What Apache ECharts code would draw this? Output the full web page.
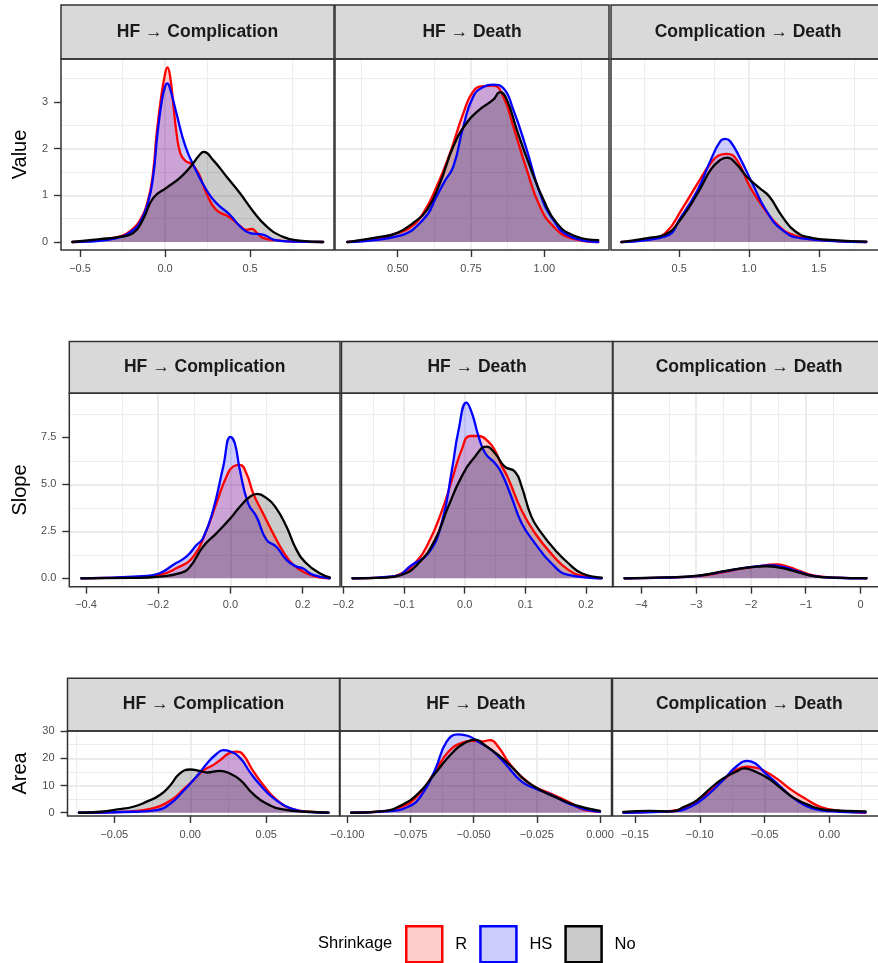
<!DOCTYPE html>
<html><head><meta charset="utf-8">
<script src="https://cdn.jsdelivr.net/npm/echarts@6/dist/echarts.min.js"></script>
<style>html,body{margin:0;padding:0;background:#fff}#c{width:878px;height:963px}</style>
</head><body><div id="c"></div><script>
// ---------- categories ----------
const measures = ['Value', 'Slope', 'Area'];
const transitions = ['HF \u2192 Complication', 'HF \u2192 Death', 'Complication \u2192 Death'];
const groups = ['R', 'HS', 'No'];

// ---------- density curves (x, density) ----------
// Value
const value_hfComp_R = [[-0.545,0],[-0.45,0.02],[-0.35,0.06],[-0.25,0.14],[-0.2,0.25],[-0.15,0.45],[-0.1,0.9],[-0.07,1.5],[-0.05,2.3],[-0.025,3.05],[0,3.6],[0.014,3.74],[0.03,3.55],[0.05,2.9],[0.067,2.35],[0.09,1.9],[0.12,1.74],[0.16,1.66],[0.2,1.45],[0.243,1.05],[0.3,0.69],[0.38,0.53],[0.44,0.35],[0.478,0.26],[0.51,0.28],[0.54,0.2],[0.576,0.09],[0.65,0.04],[0.75,0.01],[0.93,0]];
const value_hfComp_HS = [[-0.545,0],[-0.45,0.01],[-0.35,0.04],[-0.25,0.12],[-0.2,0.22],[-0.15,0.4],[-0.1,0.85],[-0.07,1.4],[-0.045,2.3],[-0.02,3.0],[0,3.33],[0.014,3.4],[0.03,3.28],[0.067,2.76],[0.12,2.05],[0.18,1.55],[0.243,1.12],[0.3,0.84],[0.38,0.59],[0.44,0.34],[0.5,0.19],[0.576,0.16],[0.65,0.04],[0.75,0.01],[0.93,0]];
const value_hfComp_No = [[-0.545,0],[-0.384,0.06],[-0.267,0.11],[-0.188,0.19],[-0.13,0.48],[-0.07,0.94],[0.008,1.16],[0.086,1.37],[0.145,1.59],[0.204,1.87],[0.228,1.93],[0.282,1.76],[0.36,1.41],[0.44,1.05],[0.518,0.66],[0.596,0.34],[0.694,0.11],[0.79,0.03],[0.93,0]];
const value_hfDeath_R = [[0.328,0],[0.44,0.09],[0.497,0.19],[0.54,0.3],[0.587,0.62],[0.633,1.19],[0.678,1.9],[0.724,2.76],[0.758,3.23],[0.792,3.34],[0.826,3.35],[0.86,3.12],[0.894,2.48],[0.94,1.55],[0.985,0.76],[1.03,0.34],[1.088,0.09],[1.184,0]];
const value_hfDeath_HS = [[0.328,0],[0.497,0.12],[0.587,0.48],[0.633,0.98],[0.66,1.3],[0.69,1.62],[0.724,2.48],[0.758,3.12],[0.792,3.32],[0.826,3.37],[0.86,3.3],[0.894,2.84],[0.94,1.98],[0.985,1.05],[1.03,0.48],[1.088,0.12],[1.184,0]];
const value_hfDeath_No = [[0.328,0],[0.44,0.11],[0.497,0.19],[0.553,0.41],[0.6,0.69],[0.644,1.26],[0.69,2.05],[0.735,2.55],[0.78,2.84],[0.826,3.05],[0.849,3.21],[0.872,3.05],[0.906,2.41],[0.951,1.62],[0.997,0.91],[1.042,0.41],[1.1,0.14],[1.184,0.04]];
const value_compDeath_R = [[0.086,0],[0.284,0.06],[0.4,0.19],[0.516,0.69],[0.633,1.26],[0.726,1.69],[0.795,1.87],[0.842,1.89],[0.912,1.76],[1.005,1.19],[1.098,0.76],[1.214,0.34],[1.33,0.14],[1.516,0.04],[1.84,0]];
const value_compDeath_HS = [[0.086,0],[0.4,0.12],[0.516,0.55],[0.633,1.12],[0.726,1.76],[0.795,2.16],[0.83,2.21],[0.865,2.16],[0.935,1.8],[1.028,1.23],[1.12,0.69],[1.237,0.26],[1.377,0.08],[1.84,0]];
const value_compDeath_No = [[0.086,0],[0.284,0.09],[0.4,0.16],[0.516,0.51],[0.633,1.05],[0.726,1.55],[0.795,1.76],[0.842,1.81],[0.912,1.66],[0.981,1.41],[1.074,1.16],[1.144,0.98],[1.237,0.55],[1.33,0.23],[1.447,0.09],[1.61,0.04],[1.84,0.01]];
// Slope
const slope_hfComp_R = [[-0.413,0],[-0.316,0.04],[-0.242,0.09],[-0.196,0.18],[-0.15,0.53],[-0.103,1.15],[-0.066,2.57],[-0.039,3.99],[-0.011,5.41],[0.007,5.94],[0.026,6.03],[0.044,5.59],[0.063,4.52],[0.09,3.46],[0.118,2.39],[0.146,1.42],[0.174,0.71],[0.21,0.27],[0.247,0.05],[0.275,0]];
const slope_hfComp_HS = [[-0.413,0],[-0.242,0.12],[-0.196,0.27],[-0.159,0.71],[-0.122,1.15],[-0.094,1.77],[-0.076,2.13],[-0.048,3.63],[-0.02,5.94],[0,7.52],[0.012,7.18],[0.026,5.76],[0.049,3.99],[0.072,3.28],[0.1,2.04],[0.127,1.68],[0.155,0.98],[0.183,0.62],[0.2,0.53],[0.229,0.18],[0.275,0]];
const slope_hfComp_No = [[-0.413,0],[-0.27,0.02],[-0.196,0.09],[-0.14,0.27],[-0.113,0.59],[-0.076,1.68],[-0.039,2.39],[0,3.19],[0.026,3.81],[0.054,4.34],[0.074,4.49],[0.1,4.26],[0.127,3.72],[0.155,2.75],[0.183,1.51],[0.21,0.8],[0.247,0.27],[0.275,0.05]];
const slope_hfDeath_R = [[-0.185,0],[-0.131,0.05],[-0.104,0.27],[-0.082,0.8],[-0.06,1.86],[-0.038,3.55],[-0.021,5.23],[-0.005,6.83],[0.009,7.57],[0.023,7.57],[0.039,7.27],[0.05,6.8],[0.061,6.0],[0.072,5.3],[0.094,3.6],[0.116,2.4],[0.143,1.3],[0.171,0.45],[0.198,0.1],[0.226,0]];
const slope_hfDeath_HS = [[-0.185,0],[-0.115,0.12],[-0.087,0.71],[-0.06,1.33],[-0.038,2.93],[-0.021,5.76],[-0.01,7.89],[0.003,9.34],[0.012,8.78],[0.023,7.54],[0.034,6.65],[0.05,6.12],[0.061,5.59],[0.077,4.34],[0.094,2.93],[0.116,1.86],[0.143,0.8],[0.171,0.18],[0.226,0]];
const slope_hfDeath_No = [[-0.185,0],[-0.131,0.04],[-0.104,0.18],[-0.076,0.8],[-0.049,2.04],[-0.027,3.81],[-0.005,5.41],[0.017,6.47],[0.036,7.0],[0.05,6.65],[0.066,5.94],[0.083,5.67],[0.094,4.88],[0.11,3.28],[0.127,2.39],[0.149,1.51],[0.171,0.8],[0.193,0.27],[0.226,0.04]];
const slope_compDeath_R = [[-4.31,0],[-3.57,0.04],[-2.97,0.12],[-2.5,0.33],[-2.2,0.5],[-1.9,0.62],[-1.55,0.74],[-1.3,0.6],[-1.1,0.38],[-0.84,0.14],[-0.48,0.04],[0.11,0]];
const slope_compDeath_HS = [[-4.31,0],[-3.57,0.04],[-2.97,0.13],[-2.5,0.35],[-2.2,0.52],[-1.9,0.63],[-1.67,0.69],[-1.4,0.6],[-1.13,0.35],[-0.84,0.12],[-0.48,0.03],[0.11,0]];
const slope_compDeath_No = [[-4.31,0],[-3.57,0.05],[-2.97,0.14],[-2.5,0.38],[-2.2,0.52],[-1.9,0.62],[-1.73,0.64],[-1.45,0.56],[-1.15,0.33],[-0.86,0.12],[-0.5,0.04],[0.11,0.01]];
// Area
const area_hfComp_R = [[-0.0733,0],[-0.048,0.24],[-0.031,1.0],[-0.02,2.45],[-0.011,5.3],[-0.005,8.3],[0.002,12.0],[0.009,15.7],[0.015,17.5],[0.0195,19.3],[0.026,22.0],[0.0305,22.5],[0.035,21.2],[0.041,15.7],[0.048,10.2],[0.057,4.65],[0.068,1.22],[0.079,0.37],[0.091,0]];
const area_hfComp_HS = [[-0.0733,0],[-0.0375,0.37],[-0.022,1.0],[-0.013,3.4],[-0.005,7.7],[0.004,13.2],[0.011,18.1],[0.017,21.5],[0.0217,23.0],[0.026,22.6],[0.033,20.0],[0.039,15.1],[0.046,10.2],[0.055,5.3],[0.066,1.6],[0.079,0.24],[0.091,0]];
const area_hfComp_No = [[-0.0733,0],[-0.059,0.37],[-0.048,1.2],[-0.0375,2.2],[-0.029,4.0],[-0.02,6.5],[-0.013,10.2],[-0.007,14.4],[0,15.9],[0.006,15.4],[0.011,14.8],[0.0195,15.4],[0.026,14.4],[0.033,12.0],[0.041,7.1],[0.05,3.4],[0.061,1.2],[0.0765,0.37],[0.091,0.05]];
const area_hfDeath_R = [[-0.0985,0],[-0.0877,0.37],[-0.0785,2.2],[-0.0719,6.5],[-0.0653,15.1],[-0.06,22.4],[-0.0547,25.7],[-0.0508,26.4],[-0.0468,26.2],[-0.0435,26.7],[-0.0402,24.2],[-0.0363,18.7],[-0.031,13.2],[-0.0257,9.5],[-0.0191,6.9],[-0.0125,4.0],[-0.0059,1.0],[0,0.37]];
const area_hfDeath_HS = [[-0.0985,0],[-0.085,0.5],[-0.0759,2.2],[-0.0706,6.5],[-0.0653,15.7],[-0.0607,26.1],[-0.0561,28.8],[-0.0521,28.2],[-0.0482,26.1],[-0.0429,23.0],[-0.0376,18.1],[-0.031,11.4],[-0.0257,8.9],[-0.0191,6.5],[-0.0125,3.4],[-0.0059,1.2],[0,0.3]];
const area_hfDeath_No = [[-0.0985,0],[-0.085,0.7],[-0.0785,2.8],[-0.0719,7.1],[-0.0653,14.4],[-0.0587,21.8],[-0.0534,25.7],[-0.0495,26.9],[-0.0455,24.8],[-0.0402,21.2],[-0.035,16.9],[-0.0297,12.0],[-0.0231,8.1],[-0.0165,5.3],[-0.0099,2.8],[0,0.7]];
const area_compDeath_R = [[-0.159,0],[-0.139,0.37],[-0.122,0.7],[-0.107,2.8],[-0.094,7.1],[-0.082,12.0],[-0.072,15.7],[-0.064,16.9],[-0.057,16.6],[-0.049,15.1],[-0.039,12.0],[-0.029,8.3],[-0.019,5.3],[-0.007,2.2],[0.008,0.7],[0.028,0]];
const area_compDeath_HS = [[-0.159,0],[-0.122,0.5],[-0.107,2.2],[-0.094,6.5],[-0.082,12.0],[-0.072,16.9],[-0.063,19.1],[-0.057,18.1],[-0.049,14.4],[-0.039,10.2],[-0.029,5.9],[-0.019,2.8],[-0.007,1.0],[0.008,0.37],[0.028,0.1]];
const area_compDeath_No = [[-0.159,0.3],[-0.139,0.7],[-0.122,0.5],[-0.112,2.2],[-0.102,4.65],[-0.092,8.9],[-0.082,12.6],[-0.072,15.1],[-0.0655,16.3],[-0.057,15.1],[-0.047,12.6],[-0.037,8.9],[-0.027,5.3],[-0.014,2.45],[-0.002,1.0],[0.028,0.5]];

// ---------- tick labels ----------
const valueYTicks = [0, 1, 2, 3];
const slopeYTicks = [0, 2.5, 5, 7.5];
const areaYTicks = [0, 10, 20, 30];
const value_hfComp_xTicks = [-0.5, 0, 0.5];
const value_hfDeath_xTicks = [0.5, 0.75, 1.0];
const value_compDeath_xTicks = [0.5, 1.0, 1.5];
const slope_hfComp_xTicks = [-0.4, -0.2, 0, 0.2];
const slope_hfDeath_xTicks = [-0.2, -0.1, 0, 0.1, 0.2];
const slope_compDeath_xTicks = [-4, -3, -2, -1, 0];
const area_hfComp_xTicks = [-0.05, 0, 0.05];
const area_hfDeath_xTicks = [-0.1, -0.075, -0.05, -0.025, 0];
const area_compDeath_xTicks = [-0.15, -0.1, -0.05, 0];

// ---------- assembly ----------
const panelData = [
  [[value_hfComp_R, value_hfComp_HS, value_hfComp_No], [value_hfDeath_R, value_hfDeath_HS, value_hfDeath_No], [value_compDeath_R, value_compDeath_HS, value_compDeath_No]],
  [[slope_hfComp_R, slope_hfComp_HS, slope_hfComp_No], [slope_hfDeath_R, slope_hfDeath_HS, slope_hfDeath_No], [slope_compDeath_R, slope_compDeath_HS, slope_compDeath_No]],
  [[area_hfComp_R, area_hfComp_HS, area_hfComp_No], [area_hfDeath_R, area_hfDeath_HS, area_hfDeath_No], [area_compDeath_R, area_compDeath_HS, area_compDeath_No]]
];
const yTicks = [valueYTicks, slopeYTicks, areaYTicks];
const xTicks = [
  [value_hfComp_xTicks, value_hfDeath_xTicks, value_compDeath_xTicks],
  [slope_hfComp_xTicks, slope_hfDeath_xTicks, slope_compDeath_xTicks],
  [area_hfComp_xTicks, area_hfDeath_xTicks, area_compDeath_xTicks]
];

// layout (pixels) and axis windows
const rowLayout = [
  {stripTop: 5, top: 59, bottom: 250, yMin: -0.171, yMax: 3.921, yDec: 0, nameGap: 31},
  {stripTop: 341.5, top: 393.3, bottom: 586.7, yMin: -0.447, yMax: 9.84, yDec: 1, nameGap: 39},
  {stripTop: 678.3, top: 731, bottom: 816, yMin: -1.2, yMax: 30.05, yDec: 0, nameGap: 37.5}
];
const colLayout = [
  [{l: 61, r: 334, min: -0.612, max: 0.994, dec: 1}, {l: 335, r: 609, min: 0.2862, max: 1.2207, dec: 2}, {l: 611, r: 885, min: 0.0115, max: 1.9236, dec: 1}],
  [{l: 69.3, r: 340, min: -0.4462, max: 0.3033, dec: 1}, {l: 341.5, r: 612.5, min: -0.203, max: 0.2437, dec: 1}, {l: 613, r: 885, min: -4.52, max: 0.32, dec: 0}],
  [{l: 67.5, r: 339.5, min: -0.0808, max: 0.0982, dec: 2}, {l: 340, r: 611.5, min: -0.1029, max: 0.00455, dec: 3}, {l: 612.5, r: 886, min: -0.1674, max: 0.0376, dec: 2}]
];
const colors = {R: '#FF0000', HS: '#0000FF', No: '#000000'};
const fills = {R: 'rgba(255,0,0,0.2)', HS: 'rgba(0,0,255,0.2)', No: 'rgba(0,0,0,0.2)'};
const FONT = '"Liberation Sans", Arial, Helvetica, sans-serif';

function makeFmt(step, dec) {
  return function (v) {
    const k = v / step;
    if (Math.abs(k - Math.round(k)) > 1e-6) return '';
    if (Math.abs(v) < 1e-12) v = 0;
    return (v < 0 ? '\u2212' : '') + Math.abs(v).toFixed(dec);
  };
}

const grids = [], xAxes = [], yAxes = [], series = [], graphics = [];
rowLayout.forEach((row, r) => {
  colLayout[r].forEach((c, k) => {
    const idx = grids.length;
    grids.push({left: c.l, top: row.top, width: c.r - c.l, height: row.bottom - row.top, show: false, containLabel: false});
    const xt = xTicks[r][k];
    const xs = +(xt[1] - xt[0]).toFixed(6);
    xAxes.push({
      type: 'value', gridIndex: idx, min: c.min, max: c.max, position: 'bottom',
      splitNumber: 3, minInterval: xs, maxInterval: xs,
      axisLine: {show: false, onZero: false},
      axisTick: {show: true, length: 7, lineStyle: {color: '#333333', width: 1.4}, customValues: xt},
      axisLabel: {show: true, customValues: xt, formatter: makeFmt(xs, c.dec), color: '#4D4D4D', fontSize: 11, fontFamily: FONT, margin: 13},
      splitLine: {show: true, showMinLine: false, showMaxLine: false, lineStyle: {color: '#EBEBEB', width: 1.8}},
      minorTick: {show: false, splitNumber: 2},
      minorSplitLine: {show: true, lineStyle: {color: '#EBEBEB', width: 0.9}}
    });
    const yt = yTicks[r];
    const ys = yt[1] - yt[0];
    const first = k === 0;
    yAxes.push({
      type: 'value', gridIndex: idx, min: row.yMin, max: row.yMax, position: 'left',
      splitNumber: 4, minInterval: ys, maxInterval: ys,
      name: first ? measures[r] : '', nameLocation: 'middle', nameGap: row.nameGap,
      nameTextStyle: {fontSize: 20, color: '#000000', fontFamily: FONT},
      axisLine: {show: false, onZero: false},
      axisTick: {show: first, length: 7, lineStyle: {color: '#333333', width: 1.4}, customValues: yt},
      axisLabel: {show: first, customValues: yt, formatter: makeFmt(ys, row.yDec), color: '#4D4D4D', fontSize: 11, fontFamily: FONT, margin: 13},
      splitLine: {show: true, showMinLine: false, showMaxLine: false, lineStyle: {color: '#EBEBEB', width: 1.8}},
      minorTick: {show: false, splitNumber: 2},
      minorSplitLine: {show: true, lineStyle: {color: '#EBEBEB', width: 0.9}}
    });
    groups.forEach((g, gi) => {
      series.push({
        name: g, type: 'line', xAxisIndex: idx, yAxisIndex: idx,
        data: panelData[r][k][gi],
        smooth: 0.5, showSymbol: false, symbol: 'none',
        lineStyle: {color: colors[g], width: 2.3, join: 'round', cap: 'round'},
        itemStyle: {color: colors[g]},
        areaStyle: {color: fills[g], opacity: 1},
        emphasis: {disabled: true}, silent: true
      });
    });
    // facet strip
    graphics.push({type: 'rect', shape: {x: c.l, y: row.stripTop, width: c.r - c.l, height: row.top - row.stripTop},
      style: {fill: '#D9D9D9', stroke: '#333333', lineWidth: 1.5}, z: 1, silent: true});
    graphics.push({type: 'text', x: (c.l + c.r) / 2, y: (row.stripTop + row.top) / 2,
      style: {text: transitions[k], fontSize: 17.5, fontWeight: 'bold', fontFamily: FONT, fill: '#1A1A1A', align: 'center', verticalAlign: 'middle'}, z: 2, silent: true});
    // panel border on top
    graphics.push({type: 'rect', shape: {x: c.l, y: row.top, width: c.r - c.l, height: row.bottom - row.top},
      style: {fill: 'none', stroke: '#333333', lineWidth: 1.5}, z: 100, silent: true});
  });
});
graphics.push({type: 'text', x: 318, y: 943, style: {text: 'Shrinkage', fontSize: 16.5, fontFamily: FONT, fill: '#000000', align: 'left', verticalAlign: 'middle'}, silent: true});

const chart = echarts.init(document.getElementById('c'), null, {renderer: 'canvas'});
chart.setOption({
  animation: false,
  backgroundColor: '#FFFFFF',
  grid: grids, xAxis: xAxes, yAxis: yAxes, series: series,
  graphic: {elements: graphics},
  legend: {
    left: 405, top: 925, padding: 0, itemWidth: 36, itemHeight: 36, itemGap: 12,
    textStyle: {fontSize: 16.5, color: '#000000', fontFamily: FONT, padding: [0, 0, 0, 8]},
    selectedMode: false,
    data: [
      {name: 'R', icon: 'rect', itemStyle: {color: '#FFCCCC', borderColor: '#FF0000', borderWidth: 2.5}},
      {name: 'HS', icon: 'rect', itemStyle: {color: '#CCCCFF', borderColor: '#0000FF', borderWidth: 2.5}},
      {name: 'No', icon: 'rect', itemStyle: {color: '#CCCCCC', borderColor: '#000000', borderWidth: 2.5}}
    ]
  }
});
</script></body></html>
